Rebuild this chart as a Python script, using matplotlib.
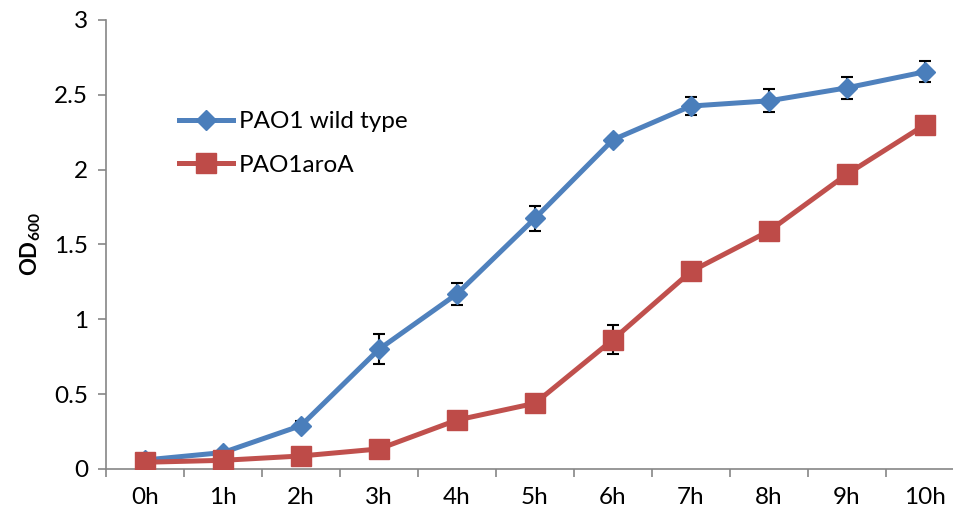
# Growth curve - PAO1 wild type vs PAO1aroA (OD600)

import matplotlib.pyplot as plt

plt.rcParams['font.family'] = ['Lato', 'DejaVu Sans']
plt.rcParams['mathtext.fontset'] = 'custom'
plt.rcParams['mathtext.rm'] = 'Lato'
plt.rcParams['mathtext.bf'] = 'Lato:bold'

# -------------------------------
# Data
# -------------------------------
hours = ["0h", "1h", "2h", "3h", "4h", "5h", "6h", "7h", "8h", "9h", "10h"]

wild_type = [0.06, 0.11, 0.29, 0.80, 1.17, 1.675, 2.20, 2.425, 2.46, 2.547, 2.654]
wild_type_err = [0.01, 0.02, 0.03, 0.10, 0.075, 0.082, 0.02, 0.063, 0.078, 0.072, 0.07]

aroa = [0.045, 0.058, 0.087, 0.134, 0.327, 0.439, 0.865, 1.32, 1.59, 1.97, 2.30]
aroa_err = [0.01, 0.01, 0.02, 0.02, 0.02, 0.02, 0.098, 0.02, 0.02, 0.02, 0.02]

x = list(range(len(hours)))

fig = plt.figure(figsize=(9.54, 5.18), dpi=100)
ax = fig.add_axes([0.1111, 0.0946, 0.8994, 0.8668])

# error bars behind the markers
ax.errorbar(x, wild_type, yerr=wild_type_err, fmt="none", ecolor="black",
            elinewidth=1.5, capsize=4, capthick=1.5, zorder=1)
ax.errorbar(x, aroa, yerr=aroa_err, fmt="none", ecolor="black",
            elinewidth=1.5, capsize=4, capthick=1.5, zorder=1)

ax.plot(x, wild_type, color="#4F81BD", linewidth=3.6, marker="D",
        markersize=10, markerfacecolor="#4A7EBB", markeredgecolor="#4A7EBB",
        label="PAO1 wild type", zorder=2)
ax.plot(x, aroa, color="#C0504D", linewidth=3.6, marker="s",
        markersize=14, markerfacecolor="#BE4B48", markeredgecolor="#BE4B48",
        label="PAO1aroA", zorder=3)

ax.set_xlim(-0.5, 10.5)
ax.set_ylim(0, 3)
ax.set_yticks([0, 0.5, 1, 1.5, 2, 2.5, 3])
ax.set_yticklabels(["0", "0.5", "1", "1.5", "2", "2.5", "3"])
ax.set_xticks(x)
ax.set_xticklabels(hours)
# tick marks between categories like Excel
ax.set_xticks([i - 0.5 for i in range(len(hours) + 1)], minor=True)
ax.tick_params(axis="x", which="major", length=0, pad=13, labelsize=17.5)
ax.tick_params(axis="x", which="minor", length=6, width=1.2, color="#868686")
ax.tick_params(axis="y", length=6, width=1.2, color="#868686", pad=7, labelsize=17.5)

for side in ["top", "right"]:
    ax.spines[side].set_visible(False)
for side in ["left", "bottom"]:
    ax.spines[side].set_color("#868686")
    ax.spines[side].set_linewidth(1.2)

ax.set_ylabel(r"OD$_{\mathbf{600}}$", fontsize=16, fontweight="bold", labelpad=8)

ax.legend(loc="upper left", bbox_to_anchor=(0.06, 0.845), frameon=False,
          fontsize=17.5, handlelength=2.2, labelspacing=0.92, handletextpad=0.25)

plt.savefig("out.png", dpi=100)
